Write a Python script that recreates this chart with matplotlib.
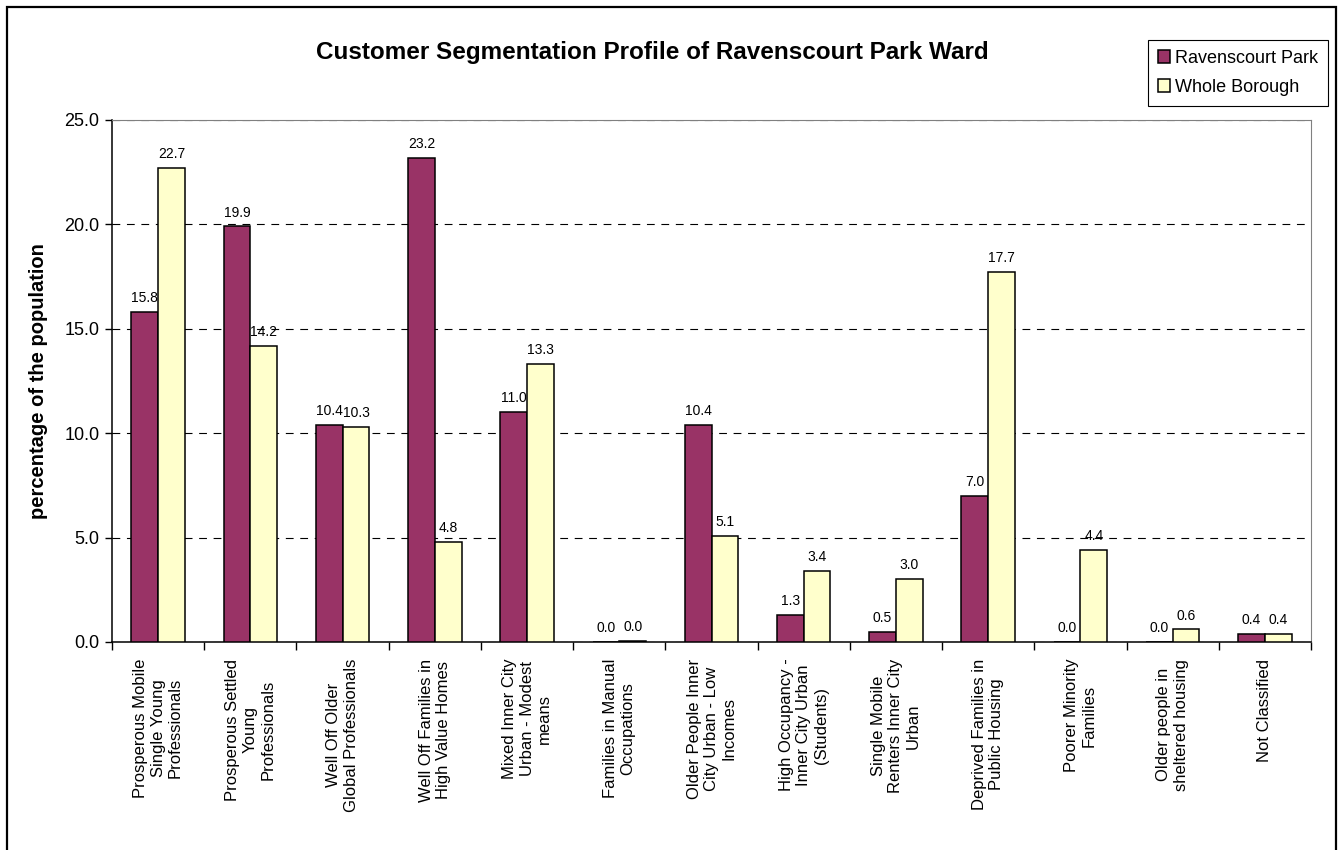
import matplotlib
matplotlib.use('Agg')
import matplotlib.pyplot as plt
from matplotlib.patches import Rectangle
import numpy as np

plt.rcParams['font.family'] = ['Liberation Sans', 'DejaVu Sans']

categories = [
    'Prosperous Mobile\nSingle Young\nProfessionals',
    'Prosperous Settled\nYoung\nProfessionals',
    'Well Off Older\nGlobal Professionals',
    'Well Off Families in\nHigh Value Homes',
    'Mixed Inner City\nUrban - Modest\nmeans',
    'Families in Manual\nOccupations',
    'Older People Inner\nCity Urban - Low\nIncomes',
    'High Occupancy -\nInner City Urban\n(Students)',
    'Single Mobile\nRenters Inner City\nUrban',
    'Deprived Families in\nPublic Housing',
    'Poorer Minority\nFamilies',
    'Older people in\nsheltered housing',
    'Not Classified',
]
ravenscourt = [15.8, 19.9, 10.4, 23.2, 11.0, 0.0, 10.4, 1.3, 0.5, 7.0, 0.0, 0.0, 0.4]
borough = [22.7, 14.2, 10.3, 4.8, 13.3, 0.04, 5.1, 3.4, 3.0, 17.7, 4.4, 0.6, 0.4]
series_names = ['Ravenscourt Park', 'Whole Borough']
colors = ['#993366', '#FFFFCC']

fig = plt.figure(figsize=(13.38, 8.5), dpi=100)
ax = fig.add_axes([112 / 1338, 1 - 642 / 850, (1311 - 112) / 1338, (642 - 120) / 850])

x = np.arange(len(categories))
w = 0.29
bars = []
for k, (vals, name) in enumerate(zip([ravenscourt, borough], series_names)):
    pos = x + (k - 0.5) * w
    b = ax.bar(pos, vals, width=w, color=colors[k], edgecolor='black',
               linewidth=1.1, label=name, zorder=3)
    bars.append(b)
    for px, v in zip(pos, vals):
        ax.annotate('%.1f' % v, (px, v), xytext=(0, 5), textcoords='offset points',
                    ha='center', va='bottom', fontsize=10, zorder=4)

ax.set_xlim(-0.5, len(categories) - 0.5)
ax.set_ylim(0, 25)
ax.set_yticks([0, 5, 10, 15, 20, 25])
ax.set_yticklabels(['%.1f' % t for t in [0, 5, 10, 15, 20, 25]], fontsize=13)
ax.yaxis.grid(True, color='black', linewidth=0.8, dashes=(7, 6), zorder=0)
ax.tick_params(axis='y', direction='out', length=5, width=1, pad=4)

# ticks between groups, labels at group centres
ax.set_xticks(np.arange(-0.5, len(categories), 1.0))
ax.set_xticklabels([])
ax.tick_params(axis='x', which='major', direction='out', length=6, width=1)
ax.set_xticks(x, minor=True)
ax.set_xticklabels(categories, minor=True, rotation=90, fontsize=12,
                   va='top', ha='center', multialignment='center')
ax.tick_params(axis='x', which='minor', length=0, pad=12)

for s in ['top', 'right']:
    ax.spines[s].set_color('#808080')
for s in ['left', 'bottom']:
    ax.spines[s].set_color('black')
    ax.spines[s].set_linewidth(1.1)

ax.set_ylabel('percentage of the population', fontsize=14.5, fontweight='bold', labelpad=12)

fig.text(652 / 1338, 1 - 52 / 850, 'Customer Segmentation Profile of Ravenscourt Park Ward',
         ha='center', va='center', fontsize=17.5, fontweight='bold')

leg = fig.legend(handles=bars, labels=series_names, loc='upper right',
                 bbox_to_anchor=(1328 / 1338, 1 - 40 / 850), fontsize=13,
                 frameon=True, fancybox=False, edgecolor='black', framealpha=1,
                 handlelength=0.7, handleheight=0.7, handletextpad=0.25,
                 labelspacing=0.65, borderpad=0.55, borderaxespad=0)
leg.get_frame().set_linewidth(0.8)

fig.add_artist(Rectangle((7 / 1338, -0.05), (1336 - 7) / 1338, 1.05 - 7 / 850,
                         transform=fig.transFigure, fill=False, edgecolor='black',
                         linewidth=1.6, clip_on=False))

fig.savefig('out.png', dpi=100)
